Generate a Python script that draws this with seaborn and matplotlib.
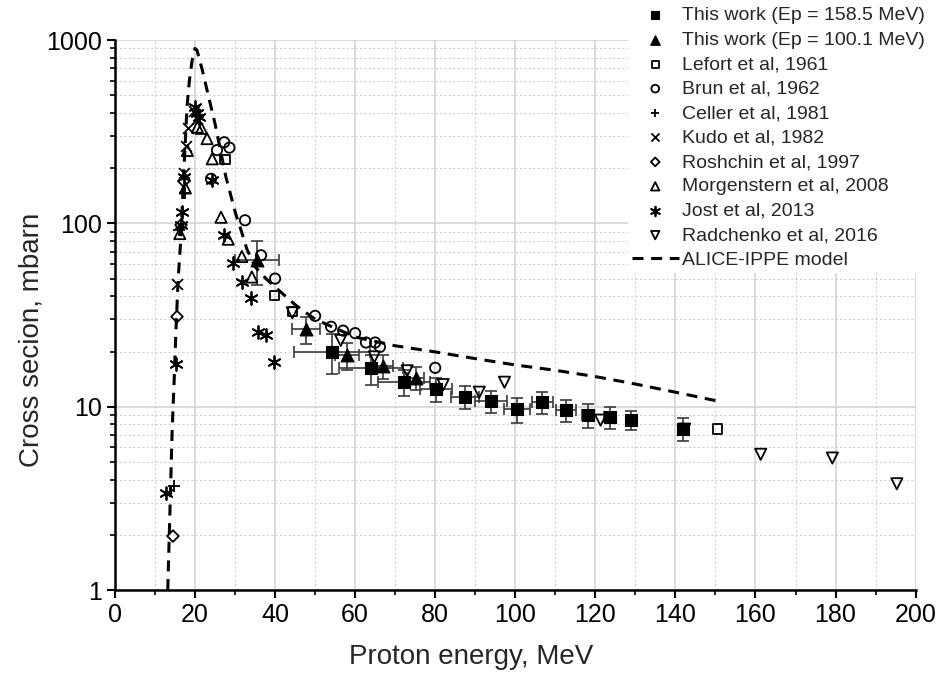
import numpy as np
import matplotlib
matplotlib.use("Agg")
import matplotlib.pyplot as plt
import matplotlib.ticker as mticker
import seaborn as sns

# This work, Ep = 158.5 MeV (filled squares)
tw158_e = [54.3, 64.0, 72.3, 80.2, 87.4, 94.0, 100.4, 106.8, 112.7, 118.2, 123.7, 129.0, 141.8]
tw158_v = [20.0, 16.2, 13.6, 12.5, 11.3, 10.7, 9.7, 10.6, 9.6, 9.0, 8.8, 8.5, 7.6]
tw158_xerr = [9.5, 8.0, 6.5, 4.0, 3.5, 4.0, 3.2, 2.7, 2.5, 1.5, 1.5, 0.5, 0.0]
tw158_yerr = [5.0, 3.0, 2.2, 1.9, 1.6, 1.5, 1.5, 1.5, 1.3, 1.3, 1.2, 1.0, 1.1]

# This work, Ep = 100.1 MeV (filled triangles)
tw100_e = [35.5, 47.8, 58.0, 67.0, 75.1]
tw100_v = [63.0, 26.5, 19.1, 16.7, 14.4]
tw100_xerr = [5.5, 3.5, 3.0, 2.5, 2.2]
tw100_yerr = [17.0, 4.5, 3.3, 2.5, 2.0]

# literature data
lefort_e = [27.5, 39.8, 44.3, 150.5]
lefort_v = [224, 40.6, 33.0, 7.55]

brun_e = [24.0, 25.5, 27.3, 28.6, 32.5, 36.5, 40.0, 50.0, 54.0, 57.0, 60.0, 62.7, 65.0, 66.2, 80.0]
brun_v = [175, 251, 277, 259, 104, 67, 50, 31.3, 27.3, 26.0, 25.2, 22.4, 22.4, 21.2, 16.3]

celler_e = [14.8, 16.1, 17.5]
celler_v = [3.7, 92, 146]

kudo_e = [15.5, 17.2, 17.7, 18.2, 19.7, 20.6]
kudo_v = [47, 188, 265, 330, 410, 370]

roshchin_e = [14.5, 15.5, 16.5, 17.2]
roshchin_v = [1.97, 31, 98, 170]

morgen_e = [16.2, 17.6, 18.1, 20.6, 21.6, 23.0, 24.3, 26.5, 28.3, 31.7, 34.2]
morgen_v = [88, 156, 250, 335, 330, 290, 225, 108, 82, 66, 51]

jost_e = [12.8, 15.2, 16.5, 16.8, 17.3, 20.0, 20.5, 21.0, 24.2, 27.2, 29.5, 31.7, 34.0, 35.8, 37.8, 39.8]
jost_v = [3.4, 17, 98, 115, 178, 430, 400, 380, 172, 86, 61, 48, 39, 25.5, 24.6, 17.5]

radch_e = [44.3, 56.4, 64.8, 73.0, 82.0, 91.0, 97.3, 121.3, 142.3, 161.3, 179.2, 195.3]
radch_v = [32.5, 23.0, 18.7, 15.7, 13.2, 12.0, 13.6, 8.45, 7.55, 5.5, 5.25, 3.8]

# ALICE-IPPE model curve
alice_e = [13.2, 13.8, 14.3, 14.8, 15.3, 15.8, 16.5, 17.2, 18.0, 18.6, 19.3, 20.0, 20.5,
           21.8, 23.5, 25.0, 27.7, 30.2, 31.7, 33.0, 35.0, 37.7, 40.0, 45.0, 50.0, 60.0,
           70.0, 80.0, 90.0, 100.0, 110.0, 120.0, 130.0, 140.0, 150.0]
alice_v = [1.0, 3.0, 7.5, 14, 28, 50, 85, 190, 430, 600, 780, 900, 880,
           690, 480, 350, 180, 112, 89, 72, 58, 50, 45, 36, 30, 24,
           21.5, 19.9, 18.3, 16.9, 15.8, 14.6, 13.3, 12.0, 10.8]

sns.set_theme(style="white")
plt.rcParams['font.family'] = ['Liberation Sans', 'DejaVu Sans']

fig, ax = plt.subplots(figsize=(9.42, 6.79), dpi=100)
fig.subplots_adjust(left=0.122, right=0.972, bottom=0.131, top=0.941)
ax.set_yscale('log')

# error bars first, markers on top
ax.errorbar(tw158_e, tw158_v, xerr=tw158_xerr, yerr=tw158_yerr, fmt='none',
            ecolor='#3a3a3a', elinewidth=1.2, capsize=4, capthick=1.2, zorder=2)
ax.errorbar(tw100_e, tw100_v, xerr=tw100_xerr, yerr=tw100_yerr, fmt='none',
            ecolor='#3a3a3a', elinewidth=1.2, capsize=4, capthick=1.2, zorder=2)

sns.scatterplot(x=tw158_e, y=tw158_v, marker='s', s=65, color='black', edgecolor='black',
                linewidth=0.8, ax=ax, label='This work (Ep = 158.5 MeV)', zorder=4)
sns.scatterplot(x=tw100_e, y=tw100_v, marker='^', s=85, color='black', edgecolor='black',
                linewidth=0.8, ax=ax, label='This work (Ep = 100.1 MeV)', zorder=4)

open_kw = dict(color='black', facecolor='none', edgecolor='black', linewidth=1.3, ax=ax, zorder=3)
sns.scatterplot(x=lefort_e, y=lefort_v, marker='s', s=45, label='Lefort et al, 1961', **open_kw)
sns.scatterplot(x=brun_e, y=brun_v, marker='o', s=55, label='Brun et al, 1962', **open_kw)
sns.scatterplot(x=celler_e, y=celler_v, marker='+', s=70, color='black', linewidth=1.3,
                ax=ax, label='Celler et al, 1981', zorder=3)
sns.scatterplot(x=kudo_e, y=kudo_v, marker='x', s=60, color='black', linewidth=1.3,
                ax=ax, label='Kudo et al, 1982', zorder=3)
sns.scatterplot(x=roshchin_e, y=roshchin_v, marker='D', s=35, label='Roshchin et al, 1997', **open_kw)
sns.scatterplot(x=morgen_e, y=morgen_v, marker='^', s=65, label='Morgenstern et al, 2008', **open_kw)
sns.scatterplot(x=jost_e, y=jost_v, marker=(6, 2, 0), s=85, color='black', linewidth=1.3,
                ax=ax, label='Jost et al, 2013', zorder=3)
sns.scatterplot(x=radch_e, y=radch_v, marker='v', s=65, label='Radchenko et al, 2016', **open_kw)

sns.lineplot(x=alice_e, y=alice_v, color='black', linewidth=2.2, linestyle=(0, (3.6, 2.5)),
             estimator=None, sort=False, ax=ax, label='ALICE-IPPE model', zorder=3)

# axes, ticks, grid
ax.set_xlim(0, 200)
ax.set_ylim(1, 1000)
ax.xaxis.set_major_locator(mticker.MultipleLocator(20))
ax.xaxis.set_minor_locator(mticker.MultipleLocator(10))
ax.yaxis.set_major_locator(mticker.LogLocator(base=10, numticks=10))
ax.yaxis.set_minor_locator(mticker.LogLocator(base=10, subs=np.arange(2, 10), numticks=20))
ax.yaxis.set_major_formatter(mticker.FuncFormatter(lambda v, p: f'{v:g}'))
ax.yaxis.set_minor_formatter(mticker.NullFormatter())

ax.grid(which='major', color='#d4d4d4', linewidth=1.2, linestyle='-')
ax.grid(which='minor', color='#cfcfcf', linewidth=0.8, linestyle=(0, (2, 2)))
ax.set_axisbelow(True)

for side in ['top', 'right']:
    ax.spines[side].set_visible(False)
for side in ['left', 'bottom']:
    ax.spines[side].set_color('black')
    ax.spines[side].set_linewidth(1.8)

ax.tick_params(which='major', direction='out', length=6, width=1.5, colors='black',
               labelsize=18, left=True, bottom=True)
ax.tick_params(which='minor', direction='out', length=3.5, width=1.2, colors='black',
               left=True, bottom=True)

# axis titles are centred on the figure, not on the axes
ax.set_xlabel('Proton energy, MeV', fontsize=20)
ax.set_ylabel('Cross secion, mbarn', fontsize=20)
ax.xaxis.set_label_coords(0.5, 0.052, transform=fig.transFigure)
ax.yaxis.set_label_coords(0.047, 0.5, transform=fig.transFigure)

handles, labels = ax.get_legend_handles_labels()
leg = ax.legend(handles, labels, loc='upper left', bbox_to_anchor=(628 / 942, 1 - 3 / 679),
                bbox_transform=fig.transFigure, fontsize=14, frameon=True, facecolor='white',
                edgecolor='none', framealpha=1, borderpad=0.2, labelspacing=0.35,
                handlelength=2.4, handletextpad=0.2, markerscale=0.75, borderaxespad=0)
leg.set_zorder(10)

plt.savefig("out.png", dpi=100)
plt.close()
